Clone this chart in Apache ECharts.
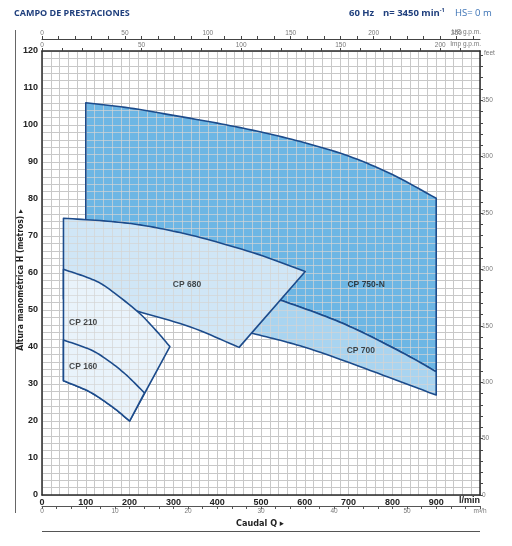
<!DOCTYPE html>
<html><head><meta charset="utf-8">
<script src="https://cdn.jsdelivr.net/npm/echarts@6/dist/echarts.min.js"></script>
<style>html,body{margin:0;padding:0;background:#fff}#c{width:512px;height:546px}</style>
</head><body><div id="c"></div><script>
// ---- Data (Q in l/min, H in m) ----
// visible boundary curves
const cp750nMax = [[100,106],[200,104.6],[300,102.6],[400,100.5],[500,98.1],[600,95.2],[700,91.6],[800,86.6],[900,80.2]];
const cp700Max  = [[549,52.5],[640,48.6],[720,44.6],[830,38.0],[900,33.3]];   // also lower edge of CP 750-N
const cp700Min  = [[480,43.7],[560,41.3],[637,38.5],[751,33.6],[900,27]];
const cp680Max  = [[49,74.8],[150,74.0],[224,73.0],[300,71.3],[377,69.1],[492,65.1],[601,60.4]];
const cp680Min  = [[217,49.7],[339,45.4],[450,39.9]];
const cp210Max  = [[49,61],[110,58.5],[148,56.1],[217,49.7],[260,44.5],[292,40.1]];
const cp210Min  = [[49,30.9],[110,27.8],[163,23.6],[200,20]];
const cp160Max  = [[49,41.9],[110,39.3],[148,36.6],[190,32.7],[234,27.6]];
// parts of the fields hidden behind the fields drawn later
const cp750nHidden = [[500,54],[100,73]];
const cp700HiddenTop = [[420,55.5]];
const cp700HiddenBottom = [[420,46]];
const cp680Hidden = [[150,51.5],[49,53]];

const modelNames = ['CP 750-N','CP 700','CP 680','CP 210','CP 160'];
const labelQ = [740, 728, 331, 94, 94];
const labelH = [56.8, 38.9, 56.8, 46.5, 34.7];

const qTicks = [0,100,200,300,400,500,600,700,800,900];
const hTicks = [0,10,20,30,40,50,60,70,80,90,100,110,120];

// ---- smooth drawing of a curve through its read points (render only) ----
function spline(pts, n){
  n = n || 10;
  if (pts.length < 3) return pts.slice();
  const out = [], L = pts.length;
  const P = i => {
    if (i < 0) return [2*pts[0][0]-pts[1][0], 2*pts[0][1]-pts[1][1]];
    if (i >= L) return [2*pts[L-1][0]-pts[L-2][0], 2*pts[L-1][1]-pts[L-2][1]];
    return pts[i];
  };
  for (let i=0;i<L-1;i++){
    const p0=P(i-1), p1=P(i), p2=P(i+1), p3=P(i+2);
    for (let k=0;k<n;k++){
      const t=k/n, t2=t*t, t3=t2*t;
      const f = (a,b,c,d) => 0.5*((2*b)+(-a+c)*t+(2*a-5*b+4*c-d)*t2+(-a+3*b-3*c+d)*t3);
      out.push([f(p0[0],p1[0],p2[0],p3[0]), f(p0[1],p1[1],p2[1],p3[1])]);
    }
  }
  out.push(pts[L-1]);
  return out;
}
const rev = a => a.slice().reverse();
const S = a => spline(a);
const polys = [
  {pts: S(cp750nMax).concat(rev(S(cp700Max)), cp750nHidden), color:'#6db6e4'},
  {pts: cp700HiddenTop.concat(S(cp700Max), rev(S(cp700Min)), cp700HiddenBottom), color:'#a9d4f0'},
  {pts: S(cp680Max).concat(rev(S(cp680Min)), cp680Hidden), color:'#d0e6f6'},
  {pts: S(cp210Max).concat(rev(S(cp210Min))), color:'#e9f3fb'},
  {pts: S(cp160Max).concat(rev(S(cp210Min))), color:'#e9f3fb'}
];
const GRID_IN = 'rgba(212,212,212,0.7)';
const OUTLINE = '#1c4b8b';

function segs(poly, axis, c){
  const o = 1-axis, v=[], n=poly.length;
  for(let i=0;i<n;i++){
    const a=poly[i], b=poly[(i+1)%n];
    if((a[axis]<=c && b[axis]>c) || (b[axis]<=c && a[axis]>c)){
      const t=(c-a[axis])/(b[axis]-a[axis]);
      v.push(a[o]+t*(b[o]-a[o]));
    }
  }
  v.sort((x,y)=>x-y);
  const r=[]; for(let i=0;i+1<v.length;i+=2) r.push([v[i],v[i+1]]);
  return r;
}
const sp = x => { const d=Math.round(x*2); return (d+1)%2===0 ? d/2 : (d+1)/2; };

const FONT = '"Liberation Sans Narrow","Liberation Sans",Arial,sans-serif';
const chart = echarts.init(document.getElementById('c'), null, {renderer:'canvas'});
const smallLbl = {fontSize:6.5, color:'#777', fontFamily:FONT};

chart.setOption({
  animation:false,
  backgroundColor:'#fff',
  grid:{left:42, right:32, top:51, bottom:51},
  xAxis:[
    {type:'value', min:0, max:1000, interval:100, position:'bottom',
     axisLine:{show:true, onZero:false, lineStyle:{color:'#2a2a2a', width:1.5}},
     axisTick:{show:false},
     axisLabel:{fontWeight:'bold', fontSize:9, color:'#222', margin:3, fontFamily:FONT,
       formatter: v => qTicks.indexOf(v)>=0 ? String(v) : ''},
     splitLine:{show:true, lineStyle:{color:'#c8c8c8', width:1}},
     minorTick:{show:false, splitNumber:5},
     minorSplitLine:{show:true, lineStyle:{color:'#c8c8c8', width:1}}},
    {type:'value', min:0, max:60, interval:2, position:'bottom', offset:11,
     axisLine:{show:true, onZero:false, lineStyle:{color:'#555', width:1}},
     axisTick:{show:true, length:3, lineStyle:{color:'#555'}},
     axisLabel:Object.assign({margin:2, formatter: v => v===60 ? 'm³/h' : (v%10===0 ? String(v) : '')}, smallLbl),
     splitLine:{show:false}},
    {type:'value', min:0, max:1000/4.54609, interval:10, position:'top', offset:0,
     axisLine:{show:true, onZero:false, lineStyle:{color:'#2a2a2a', width:1.5}},
     axisTick:{show:true, length:3, lineStyle:{color:'#444'}},
     axisLabel:Object.assign({margin:2, showMaxLabel:false, formatter: v => (v%50===0 && v<=200) ? String(v) : ''}, smallLbl),
     splitLine:{show:false}},
    {type:'value', min:0, max:1000/3.785411784, interval:10, position:'top', offset:12,
     axisLine:{show:true, onZero:false, lineStyle:{color:'#444', width:1}},
     axisTick:{show:true, length:3, lineStyle:{color:'#444'}},
     axisLabel:Object.assign({margin:2, showMaxLabel:false, formatter: v => (v%50===0 && v<=250) ? String(v) : ''}, smallLbl),
     splitLine:{show:false}}
  ],
  yAxis:[
    {type:'value', min:0, max:120, interval:10, position:'left',
     axisLine:{show:true, onZero:false, lineStyle:{color:'#2a2a2a', width:1.5}},
     axisTick:{show:false},
     axisLabel:{fontWeight:'bold', fontSize:9, color:'#222', margin:4, fontFamily:FONT,
       formatter: v => hTicks.indexOf(v)>=0 ? String(v) : ''},
     splitLine:{show:true, lineStyle:{color:'#c8c8c8', width:1}},
     minorTick:{show:false, splitNumber:5},
     minorSplitLine:{show:true, lineStyle:{color:'#c8c8c8', width:1}}},
    {type:'value', min:0, max:120/0.3048, interval:10, position:'right',
     axisLine:{show:true, onZero:false, lineStyle:{color:'#2a2a2a', width:1.5}},
     axisTick:{show:true, length:3, lineStyle:{color:'#444'}},
     axisLabel:Object.assign({margin:2, showMaxLabel:false, formatter: v => (v%50===0) ? String(v) : ''}, smallLbl),
     splitLine:{show:false}}
  ],
  series:[
    {type:'custom', xAxisIndex:0, yAxisIndex:0, clip:false, z:2,
     data: polys.map(p => p.pts[0]),
     renderItem:(params, api) => {
       const idx = params.dataIndex, base = idx*10;
       const P = polys[idx].pts;
       const pts = P.map(p => api.coord(p));
       const ch = [{type:'polygon', z2:base, shape:{points:pts}, style:{fill:polys[idx].color}}];
       for(let q=20;q<1000;q+=20){
         segs(P,0,q).forEach(([a,b])=>{
           const p1=api.coord([q,a]), p2=api.coord([q,b]); const x=sp(p1[0]);
           ch.push({type:'line', z2:base+1, shape:{x1:x,y1:p1[1],x2:x,y2:p2[1]}, style:{stroke:GRID_IN, lineWidth:1}});
         });
       }
       for(let h=2;h<120;h+=2){
         segs(P,1,h).forEach(([a,b])=>{
           const p1=api.coord([a,h]), p2=api.coord([b,h]); const y=sp(p1[1]);
           ch.push({type:'line', z2:base+1, shape:{x1:p1[0],y1:y,x2:p2[0],y2:y}, style:{stroke:GRID_IN, lineWidth:1}});
         });
       }
       ch.push({type:'polygon', z2:base+2, shape:{points:pts}, style:{fill:'none', stroke:OUTLINE, lineWidth:1.6, lineJoin:'round'}});
       return {type:'group', children:ch};
     }},
    {type:'scatter', xAxisIndex:0, yAxisIndex:0, symbolSize:0, z:5,
     data: modelNames.map((n,i)=>({name:n, value:[labelQ[i], labelH[i]]})),
     label:{show:true, position:'inside', formatter:'{b}', fontWeight:'bold', fontSize:8.5, color:'#1a1a1a', fontFamily:FONT},
     silent:true}
  ],
  graphic:[
    {type:'text', x:14, y:13, style:{text:'CAMPO DE PRESTACIONES', font:'bold 9px "Open Sans", sans-serif', fill:'#1f3f7d', textVerticalAlign:'middle'}},
    {type:'text', x:349, y:13, style:{text:'60 Hz', font:'bold 9.5px "Open Sans", sans-serif', fill:'#1f3f7d', textVerticalAlign:'middle'}},
    {type:'text', x:383, y:13, style:{text:'n= 3450 min{s|-1}', font:'bold 9.5px "Open Sans", sans-serif', fill:'#1f3f7d', textVerticalAlign:'middle',
       rich:{s:{font:'bold 5.5px "Open Sans", sans-serif', fill:'#1f3f7d', verticalAlign:'top', padding:[0,0,5,0]}}}},
    {type:'text', x:455, y:13, style:{text:'HS= 0 m', font:'9.5px "Open Sans", sans-serif', fill:'#3b72b5', textVerticalAlign:'middle'}},
    {type:'text', x:481, y:32, style:{text:'US g.p.m.', font:'6.5px '+FONT, fill:'#777', textAlign:'right', textVerticalAlign:'middle'}},
    {type:'text', x:481, y:44, style:{text:'Imp g.p.m.', font:'6.5px '+FONT, fill:'#777', textAlign:'right', textVerticalAlign:'middle'}},
    {type:'text', x:484, y:53, style:{text:'feet', font:'6.5px '+FONT, fill:'#777', textVerticalAlign:'middle'}},
    {type:'text', x:480, y:501, style:{text:'l/min', font:'bold 9px '+FONT, fill:'#222', textAlign:'right', textVerticalAlign:'middle'}},
    {type:'text', x:260, y:524, style:{text:'Caudal Q ▸', font:'bold 9px "DejaVu Sans Condensed", sans-serif', fill:'#222', textAlign:'center', textVerticalAlign:'middle'}},
    {type:'text', x:21, y:280, rotation:Math.PI/2, style:{text:'Altura manométrica H (metros) ▸', font:'bold 8.5px "DejaVu Sans Condensed", sans-serif', fill:'#222', textAlign:'center', textVerticalAlign:'middle'}},
    {type:'line', shape:{x1:15.5,y1:30,x2:15.5,y2:513}, style:{stroke:'#666', lineWidth:1}},
    {type:'line', shape:{x1:42,y1:531.5,x2:480,y2:531.5}, style:{stroke:'#555', lineWidth:1}}
  ]
});
</script></body></html>
